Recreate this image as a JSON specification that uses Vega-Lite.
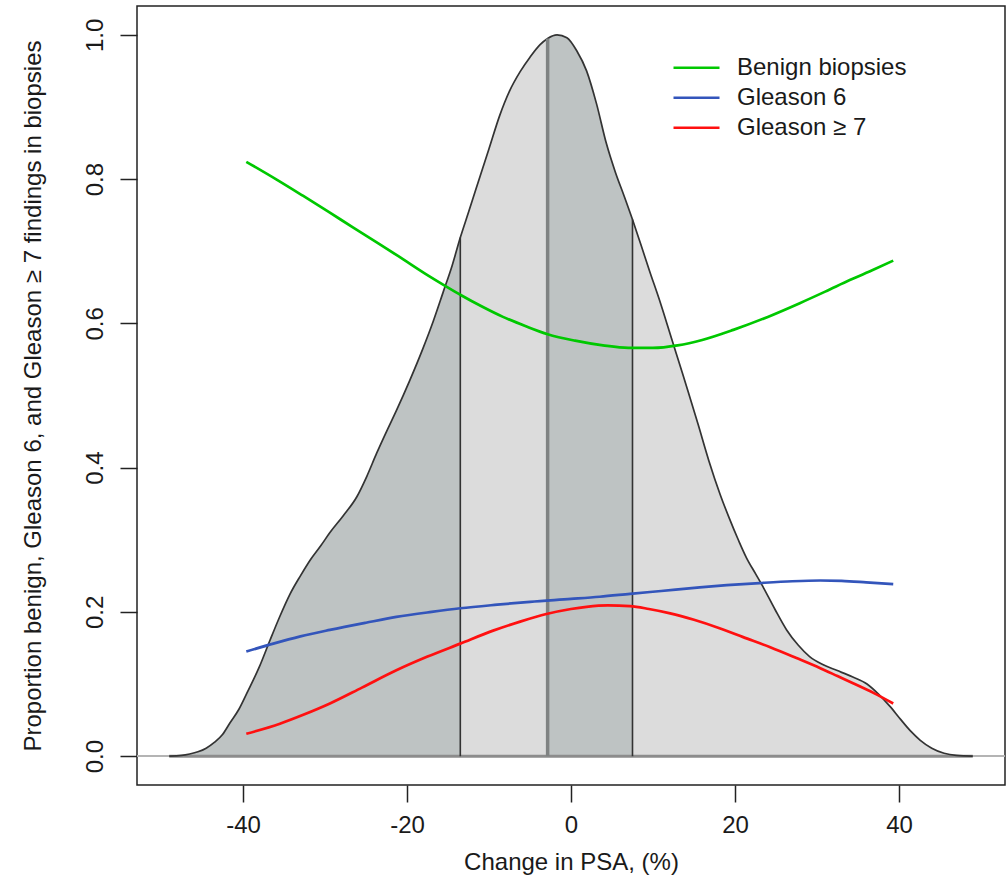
{
  "$schema": "https://vega.github.io/schema/vega-lite/v6.json",
  "width": 868,
  "height": 779,
  "autosize": "none",
  "padding": {"left": 137, "top": 6, "right": 1, "bottom": 91},
  "background": "white",
  "config": {
    "font": "Liberation Sans",
    "view": {"stroke": "#222222", "strokeWidth": 1.5},
    "axis": {
      "grid": false,
      "domain": false,
      "tickColor": "#222222",
      "tickWidth": 1.5,
      "tickSize": 17,
      "labelFont": "Liberation Sans",
      "labelFontSize": 24,
      "labelColor": "#1a1a1a",
      "titleFont": "Liberation Sans",
      "titleFontSize": 24,
      "titleFontWeight": "normal",
      "titleColor": "#1a1a1a"
    },
    "legend": {
      "labelFont": "Liberation Sans",
      "labelFontSize": 24,
      "labelColor": "#1a1a1a",
      "labelLimit": 0
    }
  },
  "datasets": {
    "density": [
      {"seg": "below Q1", "psa": -49.0, "dens": 0},
      {"seg": "below Q1", "psa": -47.5, "dens": 0.001},
      {"seg": "below Q1", "psa": -46.5, "dens": 0.003},
      {"seg": "below Q1", "psa": -45.5, "dens": 0.006},
      {"seg": "below Q1", "psa": -44.5, "dens": 0.011},
      {"seg": "below Q1", "psa": -43.5, "dens": 0.019},
      {"seg": "below Q1", "psa": -42.5, "dens": 0.030},
      {"seg": "below Q1", "psa": -41.6, "dens": 0.046},
      {"seg": "below Q1", "psa": -40.5, "dens": 0.065},
      {"seg": "below Q1", "psa": -39.5, "dens": 0.088},
      {"seg": "below Q1", "psa": -38.0, "dens": 0.124},
      {"seg": "below Q1", "psa": -36.7, "dens": 0.161},
      {"seg": "below Q1", "psa": -35.5, "dens": 0.194},
      {"seg": "below Q1", "psa": -34.3, "dens": 0.224},
      {"seg": "below Q1", "psa": -33.0, "dens": 0.250},
      {"seg": "below Q1", "psa": -31.8, "dens": 0.272},
      {"seg": "below Q1", "psa": -30.5, "dens": 0.292},
      {"seg": "below Q1", "psa": -29.4, "dens": 0.310},
      {"seg": "below Q1", "psa": -27.8, "dens": 0.333},
      {"seg": "below Q1", "psa": -26.1, "dens": 0.360},
      {"seg": "below Q1", "psa": -24.9, "dens": 0.388},
      {"seg": "below Q1", "psa": -23.7, "dens": 0.420},
      {"seg": "below Q1", "psa": -22.5, "dens": 0.450},
      {"seg": "below Q1", "psa": -21.3, "dens": 0.479},
      {"seg": "below Q1", "psa": -19.7, "dens": 0.520},
      {"seg": "below Q1", "psa": -18.1, "dens": 0.564},
      {"seg": "below Q1", "psa": -16.8, "dens": 0.603},
      {"seg": "below Q1", "psa": -15.6, "dens": 0.643},
      {"seg": "below Q1", "psa": -14.5, "dens": 0.680},
      {"seg": "below Q1", "psa": -13.5, "dens": 0.719},
      {"seg": "Q1 to median", "psa": -13.5, "dens": 0.719},
      {"seg": "Q1 to median", "psa": -12.5, "dens": 0.754},
      {"seg": "Q1 to median", "psa": -11.6, "dens": 0.786},
      {"seg": "Q1 to median", "psa": -10.8, "dens": 0.814},
      {"seg": "Q1 to median", "psa": -10.0, "dens": 0.842},
      {"seg": "Q1 to median", "psa": -8.7, "dens": 0.888},
      {"seg": "Q1 to median", "psa": -7.5, "dens": 0.922},
      {"seg": "Q1 to median", "psa": -6.2, "dens": 0.949},
      {"seg": "Q1 to median", "psa": -5.0, "dens": 0.969},
      {"seg": "Q1 to median", "psa": -3.8, "dens": 0.986},
      {"seg": "Q1 to median", "psa": -2.85, "dens": 0.995},
      {"seg": "median to Q3", "psa": -2.85, "dens": 0.995},
      {"seg": "median to Q3", "psa": -1.7, "dens": 1.0},
      {"seg": "median to Q3", "psa": -0.5, "dens": 0.996},
      {"seg": "median to Q3", "psa": 0.7, "dens": 0.978},
      {"seg": "median to Q3", "psa": 1.9, "dens": 0.950},
      {"seg": "median to Q3", "psa": 3.1, "dens": 0.905},
      {"seg": "median to Q3", "psa": 4.3, "dens": 0.850},
      {"seg": "median to Q3", "psa": 5.4, "dens": 0.810},
      {"seg": "median to Q3", "psa": 6.5, "dens": 0.776},
      {"seg": "median to Q3", "psa": 7.5, "dens": 0.744},
      {"seg": "above Q3", "psa": 7.5, "dens": 0.744},
      {"seg": "above Q3", "psa": 8.5, "dens": 0.710},
      {"seg": "above Q3", "psa": 9.6, "dens": 0.672},
      {"seg": "above Q3", "psa": 10.8, "dens": 0.632},
      {"seg": "above Q3", "psa": 12.1, "dens": 0.585},
      {"seg": "above Q3", "psa": 13.2, "dens": 0.545},
      {"seg": "above Q3", "psa": 14.3, "dens": 0.505},
      {"seg": "above Q3", "psa": 15.5, "dens": 0.460},
      {"seg": "above Q3", "psa": 16.8, "dens": 0.410},
      {"seg": "above Q3", "psa": 18.2, "dens": 0.3625},
      {"seg": "above Q3", "psa": 19.3, "dens": 0.330},
      {"seg": "above Q3", "psa": 20.4, "dens": 0.300},
      {"seg": "above Q3", "psa": 21.4, "dens": 0.275},
      {"seg": "above Q3", "psa": 22.5, "dens": 0.253},
      {"seg": "above Q3", "psa": 23.5, "dens": 0.233},
      {"seg": "above Q3", "psa": 24.9, "dens": 0.203},
      {"seg": "above Q3", "psa": 26.3, "dens": 0.175},
      {"seg": "above Q3", "psa": 27.7, "dens": 0.154},
      {"seg": "above Q3", "psa": 29.1, "dens": 0.138},
      {"seg": "above Q3", "psa": 30.7, "dens": 0.127},
      {"seg": "above Q3", "psa": 32.4, "dens": 0.119},
      {"seg": "above Q3", "psa": 34.3, "dens": 0.110},
      {"seg": "above Q3", "psa": 36.1, "dens": 0.100},
      {"seg": "above Q3", "psa": 37.5, "dens": 0.086},
      {"seg": "above Q3", "psa": 38.9, "dens": 0.069},
      {"seg": "above Q3", "psa": 40.2, "dens": 0.051},
      {"seg": "above Q3", "psa": 41.4, "dens": 0.035},
      {"seg": "above Q3", "psa": 42.6, "dens": 0.022},
      {"seg": "above Q3", "psa": 44.0, "dens": 0.011},
      {"seg": "above Q3", "psa": 45.5, "dens": 0.004},
      {"seg": "above Q3", "psa": 47.0, "dens": 0.001},
      {"seg": "above Q3", "psa": 49.0, "dens": 0}
    ],
    "quartiles": [
      {"stat": "Q1", "psa": -13.5, "dens": 0.719},
      {"stat": "Median", "psa": -2.85, "dens": 0.995},
      {"stat": "Q3", "psa": 7.5, "dens": 0.744}
    ],
    "curves": [
      {"series": "Benign biopsies", "psa": -39.6, "p": 0.824},
      {"series": "Benign biopsies", "psa": -36.0, "p": 0.800},
      {"series": "Benign biopsies", "psa": -32.7, "p": 0.777},
      {"series": "Benign biopsies", "psa": -29.6, "p": 0.755},
      {"series": "Benign biopsies", "psa": -26.6, "p": 0.733},
      {"series": "Benign biopsies", "psa": -23.5, "p": 0.711},
      {"series": "Benign biopsies", "psa": -20.5, "p": 0.689},
      {"series": "Benign biopsies", "psa": -17.8, "p": 0.669},
      {"series": "Benign biopsies", "psa": -15.2, "p": 0.651},
      {"series": "Benign biopsies", "psa": -13.4, "p": 0.639},
      {"series": "Benign biopsies", "psa": -10.8, "p": 0.623},
      {"series": "Benign biopsies", "psa": -8.3, "p": 0.609},
      {"series": "Benign biopsies", "psa": -5.5, "p": 0.596},
      {"series": "Benign biopsies", "psa": -2.85, "p": 0.585},
      {"series": "Benign biopsies", "psa": 0.5, "p": 0.576},
      {"series": "Benign biopsies", "psa": 3.9, "p": 0.5695},
      {"series": "Benign biopsies", "psa": 7.0, "p": 0.566},
      {"series": "Benign biopsies", "psa": 10.0, "p": 0.566},
      {"series": "Benign biopsies", "psa": 13.0, "p": 0.5695},
      {"series": "Benign biopsies", "psa": 16.0, "p": 0.577},
      {"series": "Benign biopsies", "psa": 19.8, "p": 0.591},
      {"series": "Benign biopsies", "psa": 24.0, "p": 0.609},
      {"series": "Benign biopsies", "psa": 27.9, "p": 0.628},
      {"series": "Benign biopsies", "psa": 31.0, "p": 0.644},
      {"series": "Benign biopsies", "psa": 34.0, "p": 0.660},
      {"series": "Benign biopsies", "psa": 37.0, "p": 0.675},
      {"series": "Benign biopsies", "psa": 39.3, "p": 0.687},
      {"series": "Gleason 6", "psa": -39.6, "p": 0.145},
      {"series": "Gleason 6", "psa": -36.3, "p": 0.156},
      {"series": "Gleason 6", "psa": -33.0, "p": 0.166},
      {"series": "Gleason 6", "psa": -29.4, "p": 0.175},
      {"series": "Gleason 6", "psa": -25.0, "p": 0.185},
      {"series": "Gleason 6", "psa": -21.3, "p": 0.193},
      {"series": "Gleason 6", "psa": -17.0, "p": 0.200},
      {"series": "Gleason 6", "psa": -13.5, "p": 0.205},
      {"series": "Gleason 6", "psa": -9.0, "p": 0.210},
      {"series": "Gleason 6", "psa": -5.0, "p": 0.214},
      {"series": "Gleason 6", "psa": 0.0, "p": 0.218},
      {"series": "Gleason 6", "psa": 3.5, "p": 0.221},
      {"series": "Gleason 6", "psa": 7.2, "p": 0.225},
      {"series": "Gleason 6", "psa": 11.0, "p": 0.229},
      {"series": "Gleason 6", "psa": 15.7, "p": 0.234},
      {"series": "Gleason 6", "psa": 19.0, "p": 0.237},
      {"series": "Gleason 6", "psa": 23.0, "p": 0.240},
      {"series": "Gleason 6", "psa": 27.0, "p": 0.2425},
      {"series": "Gleason 6", "psa": 30.4, "p": 0.2435},
      {"series": "Gleason 6", "psa": 33.0, "p": 0.243},
      {"series": "Gleason 6", "psa": 36.0, "p": 0.241},
      {"series": "Gleason 6", "psa": 39.3, "p": 0.2385},
      {"series": "Gleason ≥ 7", "psa": -39.6, "p": 0.031},
      {"series": "Gleason ≥ 7", "psa": -35.5, "p": 0.045},
      {"series": "Gleason ≥ 7", "psa": -32.5, "p": 0.058},
      {"series": "Gleason ≥ 7", "psa": -29.4, "p": 0.073},
      {"series": "Gleason ≥ 7", "psa": -25.5, "p": 0.095},
      {"series": "Gleason ≥ 7", "psa": -21.3, "p": 0.119},
      {"series": "Gleason ≥ 7", "psa": -17.5, "p": 0.138},
      {"series": "Gleason ≥ 7", "psa": -13.5, "p": 0.156},
      {"series": "Gleason ≥ 7", "psa": -9.5, "p": 0.174},
      {"series": "Gleason ≥ 7", "psa": -6.2, "p": 0.1865},
      {"series": "Gleason ≥ 7", "psa": -3.0, "p": 0.197},
      {"series": "Gleason ≥ 7", "psa": 0.0, "p": 0.204},
      {"series": "Gleason ≥ 7", "psa": 1.9, "p": 0.207},
      {"series": "Gleason ≥ 7", "psa": 4.5, "p": 0.209},
      {"series": "Gleason ≥ 7", "psa": 7.2, "p": 0.208},
      {"series": "Gleason ≥ 7", "psa": 9.5, "p": 0.204},
      {"series": "Gleason ≥ 7", "psa": 12.1, "p": 0.198},
      {"series": "Gleason ≥ 7", "psa": 15.0, "p": 0.189},
      {"series": "Gleason ≥ 7", "psa": 18.2, "p": 0.177},
      {"series": "Gleason ≥ 7", "psa": 21.0, "p": 0.165},
      {"series": "Gleason ≥ 7", "psa": 24.3, "p": 0.151},
      {"series": "Gleason ≥ 7", "psa": 27.5, "p": 0.136},
      {"series": "Gleason ≥ 7", "psa": 30.4, "p": 0.122},
      {"series": "Gleason ≥ 7", "psa": 32.5, "p": 0.111},
      {"series": "Gleason ≥ 7", "psa": 34.4, "p": 0.101},
      {"series": "Gleason ≥ 7", "psa": 37.0, "p": 0.087},
      {"series": "Gleason ≥ 7", "psa": 39.3, "p": 0.073}
    ]
  },
  "layer": [
    {
      "data": {"name": "density"},
      "mark": {"type": "area", "interpolate": "monotone"},
      "encoding": {
        "x": {
          "field": "psa", "type": "quantitative",
          "scale": {"domain": [-52.93, 52.93], "nice": false, "zero": false},
          "axis": {
            "values": [-40, -20, 0, 20, 40],
            "labelExpr": "replace(datum.label, '\u2212', '-')",
            "labelPadding": 11,
            "titlePadding": 13
          },
          "title": "Change in PSA, (%)"
        },
        "y": {
          "field": "dens", "type": "quantitative",
          "stack": null,
          "scale": {"domain": [-0.04, 1.04], "nice": false, "zero": false},
          "axis": {
            "values": [0, 0.2, 0.4, 0.6, 0.8, 1.0],
            "format": ".1f",
            "labelAngle": 270,
            "labelAlign": "center",
            "labelBaseline": "bottom",
            "labelPadding": 13,
            "titlePadding": 38
          },
          "title": "Proportion benign, Gleason 6, and Gleason ≥ 7 findings in biopsies"
        },
        "fill": {
          "field": "seg", "type": "nominal",
          "scale": {
            "domain": ["below Q1", "Q1 to median", "median to Q3", "above Q3"],
            "range": ["#bec3c3", "#dcdcdc", "#bec3c3", "#dcdcdc"]
          },
          "legend": null
        }
      }
    },
    {
      "data": {"name": "density"},
      "mark": {"type": "rule", "color": "#b4b4b4", "strokeWidth": 1.2},
      "encoding": {
        "y": {"datum": 0, "type": "quantitative"}
      }
    },
    {
      "data": {"name": "density"},
      "transform": [
        {"aggregate": [
          {"op": "min", "field": "psa", "as": "lo"},
          {"op": "max", "field": "psa", "as": "hi"}
        ]}
      ],
      "mark": {"type": "rule", "color": "#8c8c8c", "strokeWidth": 3},
      "encoding": {
        "x": {"field": "lo", "type": "quantitative"},
        "x2": {"field": "hi"},
        "y": {"datum": 0, "type": "quantitative"}
      }
    },
    {
      "data": {"name": "density"},
      "transform": [
        {"aggregate": [{"op": "max", "field": "dens", "as": "dens"}], "groupby": ["psa"]}
      ],
      "mark": {"type": "line", "interpolate": "monotone", "color": "#333333", "strokeWidth": 1.7},
      "encoding": {
        "x": {"field": "psa", "type": "quantitative"},
        "y": {"field": "dens", "type": "quantitative"}
      }
    },
    {
      "data": {"name": "quartiles"},
      "transform": [{"filter": "datum.stat !== 'Median'"}],
      "mark": {"type": "rule", "color": "#333333", "strokeWidth": 1.6},
      "encoding": {
        "x": {"field": "psa", "type": "quantitative"},
        "y": {"field": "dens", "type": "quantitative"},
        "y2": {"datum": 0}
      }
    },
    {
      "data": {"name": "quartiles"},
      "transform": [{"filter": "datum.stat === 'Median'"}],
      "mark": {"type": "rule", "color": "#7f8282", "strokeWidth": 3.5},
      "encoding": {
        "x": {"field": "psa", "type": "quantitative"},
        "y": {"field": "dens", "type": "quantitative"},
        "y2": {"datum": 0}
      }
    },
    {
      "data": {"name": "curves"},
      "mark": {"type": "line", "interpolate": "monotone", "strokeWidth": 2.7},
      "encoding": {
        "x": {"field": "psa", "type": "quantitative"},
        "y": {"field": "p", "type": "quantitative"},
        "color": {
          "field": "series", "type": "nominal",
          "scale": {
            "domain": ["Benign biopsies", "Gleason 6", "Gleason ≥ 7"],
            "range": ["#00c800", "#3355bb", "#ff1010"]
          },
          "legend": {
            "title": null,
            "orient": "none",
            "legendX": 535,
            "legendY": 47,
            "padding": 0,
            "symbolType": "stroke",
            "symbolSize": 2116,
            "symbolStrokeWidth": 2.6,
            "clipHeight": 29.5,
            "rowPadding": 0,
            "labelOffset": 16,
            "labelLimit": 0
          }
        }
      }
    }
  ]
}
